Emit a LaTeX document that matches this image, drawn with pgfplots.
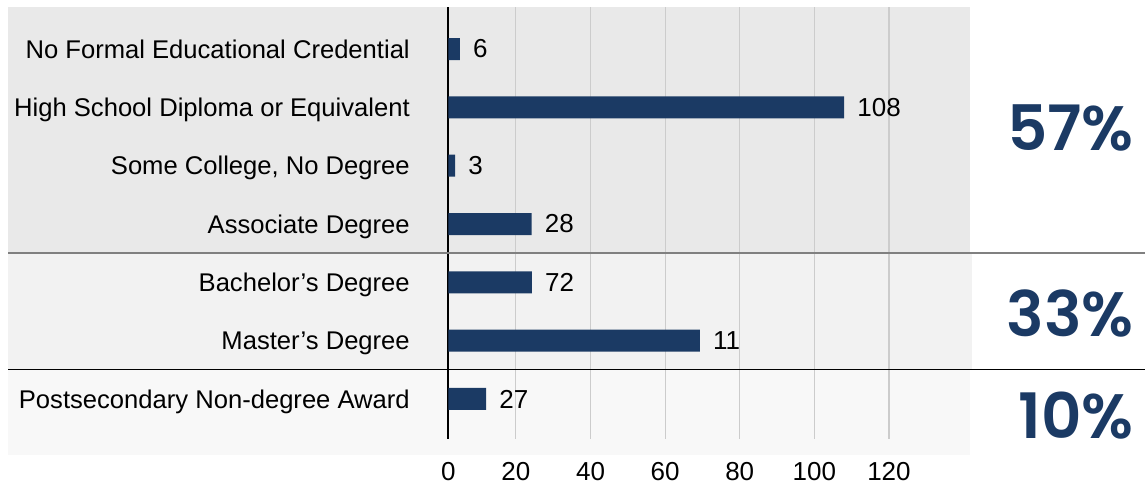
\documentclass[border=0pt]{standalone}
\usepackage{fontspec}
\setmainfont{Liberation Sans}
\newfontfamily\pctfont{Poppins SemiBold}
\usepackage{pgfplots}
\usepackage{pgfplotstable}
\pgfplotsset{compat=1.18}
\definecolor{navy}{HTML}{1B3A64}
\definecolor{bandA}{HTML}{E9E9E9}
\definecolor{bandB}{HTML}{F2F2F2}
\definecolor{bandC}{HTML}{F8F8F8}
\definecolor{gridc}{HTML}{CCCCCC}
\pgfplotstableread{
y val label
1 5.0 6
2 108 108
3 3.7 3
4 24.2 28
5 24.3 72
6 69.3 11
7 12.0 27
}\datatable
\newcommand\lblfont{\fontsize{19.5pt}{23pt}\selectfont}
\newcommand\catfont{\fontsize{19.2pt}{23pt}\selectfont}
\begin{document}
\begin{tikzpicture}[x=0.75pt,y=0.75pt]
\useasboundingbox (0,0) rectangle (1145,487);
% background bands
\fill[bandA] (8,234) rectangle (970,480);
\fill[bandB] (8,118) rectangle (972,234);
\fill[bandC] (8,32) rectangle (970,118);
\begin{axis}[
  at={(336.225pt,36pt)}, anchor=south west,
  scale only axis,
  width=391.3pt, height=324pt,
  xbar,
  xmin=1.88, xmax=141.74,
  ymin=0.28, ymax=7.686,
  y dir=reverse,
  separate axis lines,
  axis y line*=left,
  axis x line*=bottom,
  x axis line style={draw=none},
  y axis line style={black, line width=1.6pt, -},
  xtick={1.88,20,40,60,80,100,120},
  xticklabels={0,20,40,60,80,100,120},
  ytick={1,2,3,4,5,6,7},
  yticklabels={No Formal Educational Credential,High School Diploma or Equivalent,{Some College, No Degree},Associate Degree,Bachelor’s Degree,Master’s Degree,Postsecondary Non-degree Award},
  major tick length=0pt,
  xmajorgrids,
  grid style={gridc, line width=0.9pt},
  tick label style={font=\lblfont, text=black, inner sep=0pt},
  xticklabel style={yshift=-17pt},
  yticklabel style={font=\catfont, anchor=base east, xshift=-28.7pt, yshift=-6.8pt},
  /pgf/number format/assume math mode=true,
  nodes near coords,
  point meta=explicit symbolic,
  every node near coord/.append style={font=\lblfont, text=black, anchor=west, inner sep=0pt, xshift=9.75pt},
]
\addplot[fill=navy, draw=none, bar width=16.5pt] table[x=val, y=y, meta=label] {\datatable};
\end{axis}
% separators
\draw[gray, line width=1pt] (8,234) -- (1145,234);
\draw[black, line width=1pt] (8,117.5) -- (1145,117.5);
% shares
\node[anchor=base east, inner sep=0pt, text=navy, font=\pctfont\fontsize{47pt}{52pt}\selectfont] at (1134,337) {57\%};
\node[anchor=base east, inner sep=0pt, text=navy, font=\pctfont\fontsize{47pt}{52pt}\selectfont] at (1134,150.3) {33\%};
\node[anchor=base east, inner sep=0pt, text=navy, font=\pctfont\fontsize{47pt}{52pt}\selectfont] at (1134,48.7) {10\%};
\end{tikzpicture}
\end{document}
